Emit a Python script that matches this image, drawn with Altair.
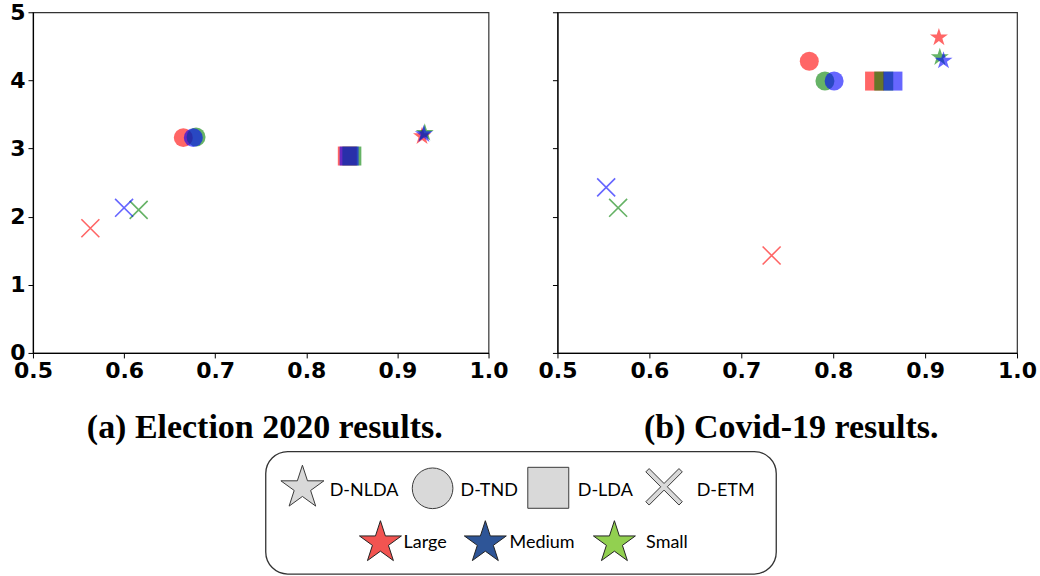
import altair as alt
import pandas as pd

# Topic-model variants and corpus sizes
methods = ["D-NLDA", "D-TND", "D-LDA", "D-ETM"]
groups = ["Large", "Medium", "Small"]

# Scores per method (Large, Medium, Small), methods in the order above
election_x = [0.927, 0.929, 0.930, 0.665, 0.676, 0.679, 0.845, 0.847, 0.850, 0.563, 0.600, 0.616]
election_y = [3.18, 3.21, 3.23, 3.16, 3.16, 3.17, 2.89, 2.89, 2.89, 1.83, 2.13, 2.10]
covid_x = [0.915, 0.920, 0.916, 0.774, 0.801, 0.791, 0.845, 0.865, 0.855, 0.733, 0.553, 0.566]
covid_y = [4.63, 4.29, 4.34, 4.28, 3.99, 3.99, 3.99, 3.99, 3.99, 1.43, 2.43, 2.13]

x_ticks = [0.5, 0.6, 0.7, 0.8, 0.9, 1.0]
y_ticks = [0, 1, 2, 3, 4, 5]

captions = ["(a) Election 2020 results.", "(b) Covid-19 results."]

# ---- styling -------------------------------------------------------------
group_colors = ["#ff0000", "#0000ff", "#008000"]
legend_colors = ["#f25451", "#2e5597", "#92d050"]
draw_order = ["Large", "Small", "Medium"]

STAR = ("M0,-1L0.2245,-0.309L0.951,-0.309L0.363,0.118L0.588,0.809L0,0.382"
        "L-0.588,0.809L-0.363,0.118L-0.951,-0.309L-0.2245,-0.309Z")
THIN_X = "M-1,-1L1,1M-1,1L1,-1"
OUTLINE_X = ("M0,-0.17L0.766,-0.936L0.936,-0.766L0.17,0L0.936,0.766L0.766,0.936"
             "L0,0.17L-0.766,0.936L-0.936,0.766L-0.17,0L-0.936,-0.766L-0.766,-0.936Z")

shape_scale = alt.Scale(domain=methods, range=[STAR, "circle", "square", OUTLINE_X])
color_scale = alt.Scale(domain=groups, range=group_colors)

PANEL_W = [456, 460]
PANEL_H = 341


def points_frame(xs, ys):
    rows = []
    for g in draw_order:
        gi = groups.index(g)
        for mi, m in enumerate(methods):
            k = mi * len(groups) + gi
            rows.append({"method": m, "group": g, "x": xs[k], "y": ys[k]})
    return pd.DataFrame(rows)


def panel(df, caption, width, show_y_labels):
    x_enc = alt.X(
        "x:Q",
        scale=alt.Scale(domain=[0.5, 1.0], nice=False, zero=False),
        axis=alt.Axis(values=x_ticks, format=".1f", title=None),
    )
    y_enc = alt.Y(
        "y:Q",
        scale=alt.Scale(domain=[0, 5], nice=False, zero=True),
        axis=alt.Axis(values=y_ticks, format="d", labels=show_y_labels, title=None),
    )
    base = alt.Chart(df).encode(
        x=x_enc,
        y=y_enc,
        color=alt.Color("group:N", scale=color_scale, legend=None),
    )
    solid = base.transform_filter(alt.datum.method != "D-ETM").mark_point(
        filled=True, opacity=0.6, size=361
    ).encode(shape=alt.Shape("method:N", scale=shape_scale, legend=None))
    crosses = base.transform_filter(alt.datum.method == "D-ETM").mark_point(
        filled=False, opacity=0.6, size=324, shape=THIN_X, strokeWidth=1.6
    )
    return alt.layer(solid, crosses).properties(
        width=width,
        height=PANEL_H,
        title=alt.TitleParams(
            caption,
            orient="bottom",
            anchor="middle",
            frame="group",
            font="Liberation Serif",
            fontSize=34,
            fontWeight="bold",
            color="black",
            baseline="alphabetic",
            offset=56,
            dx=4,
        ),
    )


left = panel(points_frame(election_x, election_y), captions[0], PANEL_W[0], True)
right = panel(points_frame(covid_x, covid_y), captions[1], PANEL_W[1], False)

top = alt.hconcat(left, right, spacing=69, bounds="flush").resolve_scale(
    x="independent", y="independent"
)

# ---- legend box ------------------------------------------------------------
LEG_W = 985
LEG_H = 124
leg_x = alt.Scale(domain=[0, LEG_W], nice=False, zero=False)
leg_y = alt.Scale(domain=[0, LEG_H], nice=False, zero=False, reverse=True)

box = pd.DataFrame([{"x0": 233, "x1": 744, "y0": 0.7, "y1": 123.3}])
key_layout = pd.DataFrame({
    "method": methods,
    "sx": [269.7, 400.0, 515.8, 631.7],
    "tx": [297.0, 428.0, 545.3, 664.3],
    "sy": [37, 37.5, 37, 36],
    "ty": [40, 40, 40, 40],
    "size": [2050, 1656, 1681, 1521],
})
group_layout = pd.DataFrame({
    "group": groups,
    "sx": [347.8, 452.8, 582.0],
    "tx": [371.0, 477.0, 613.7],
    "sy": [92, 92, 92],
    "ty": [92, 92, 92],
})

frame = alt.Chart(box).mark_rect(
    cornerRadius=22, fill="white", stroke="#333333", strokeWidth=1.3
).encode(
    x=alt.X("x0:Q", scale=leg_x, axis=None),
    x2="x1:Q",
    y=alt.Y("y0:Q", scale=leg_y, axis=None),
    y2="y1:Q",
)
key_symbols = alt.Chart(key_layout).mark_point(
    filled=True, fill="#d9d9d9", stroke="#3a3a3a", strokeWidth=1, opacity=1
).encode(
    x=alt.X("sx:Q", scale=leg_x, axis=None),
    y=alt.Y("sy:Q", scale=leg_y, axis=None),
    shape=alt.Shape("method:N", scale=shape_scale, legend=None),
    size=alt.Size("size:Q", scale=None),
)
key_text = alt.Chart(key_layout).mark_text(
    align="left", baseline="middle", font="Lato", fontSize=18, color="black"
).encode(
    x=alt.X("tx:Q", scale=leg_x, axis=None),
    y=alt.Y("ty:Q", scale=leg_y, axis=None),
    text="method:N",
)
group_symbols = alt.Chart(group_layout).mark_point(
    filled=True, shape=STAR, size=1950, stroke="#222222", strokeWidth=1, opacity=1
).encode(
    x=alt.X("sx:Q", scale=leg_x, axis=None),
    y=alt.Y("sy:Q", scale=leg_y, axis=None),
    fill=alt.Fill("group:N", scale=alt.Scale(domain=groups, range=legend_colors), legend=None),
)
group_text = alt.Chart(group_layout).mark_text(
    align="left", baseline="middle", font="Lato", fontSize=18, color="black"
).encode(
    x=alt.X("tx:Q", scale=leg_x, axis=None),
    y=alt.Y("ty:Q", scale=leg_y, axis=None),
    text="group:N",
)

legend_box = alt.layer(frame, key_symbols, key_text, group_symbols, group_text).properties(
    width=LEG_W, height=LEG_H, view=alt.ViewBackground(strokeOpacity=0)
)

chart = alt.vconcat(top, legend_box, spacing=5).resolve_scale(
    x="independent", y="independent"
).properties(
    padding={"left": 9, "top": 0, "right": 2, "bottom": 0},
    background="white",
).configure_view(
    stroke="#333333", strokeWidth=1.2
).configure_axis(
    labelFont="DejaVu Sans",
    labelFontWeight="bold",
    labelFontSize=22,
    labelColor="black",
    labelFlush=False,
    domainColor="black",
    domainWidth=1.2,
    tickColor="black",
    tickSize=5,
    tickWidth=1,
    labelPadding=3,
    grid=False,
)

chart.save("out.html", embed_options={"renderer": "svg", "actions": False})
